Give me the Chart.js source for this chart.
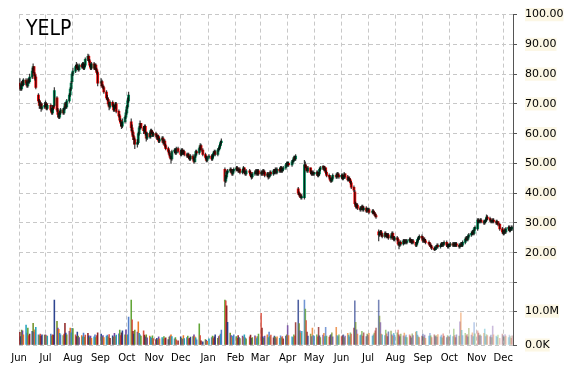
<!DOCTYPE html>
<html>
<head>
<meta charset="utf-8">
<script src="https://cdn.jsdelivr.net/npm/chart.js@4.4.1/dist/chart.umd.min.js"></script>
<style>
  html, body { margin: 0; padding: 0; background: #fff; }
  #wrap { position: relative; width: 570px; height: 370px; }
  #title { position: absolute; left: 26px; top: 16px; font: 21px "DejaVu Sans Condensed", "DejaVu Sans", sans-serif; color: #000; }
</style>
</head>
<body>
<div id="wrap">
  <canvas id="chart" width="570" height="370"></canvas>
  <div id="title">YELP</div>
</div>
<script>
// month tick labels, one per grid line (Jun 2014 .. Dec 2015)
const monthLabels = ['Jun', 'Jul', 'Aug', 'Sep', 'Oct', 'Nov', 'Dec', 'Jan', 'Feb', 'Mar', 'Apr', 'May', 'Jun', 'Jul', 'Aug', 'Sep', 'Oct', 'Nov', 'Dec'];

// market holidays inside the range
const holidays = ['2014-07-04', '2014-09-01', '2014-11-27', '2014-12-25', '2015-01-01', '2015-01-19',
  '2015-02-16', '2015-04-03', '2015-05-25', '2015-07-03', '2015-09-07', '2015-11-26'];

// daily prices, one line per month
const opens = [
  77, 76, 75, 77.5, 76.5, 78, 77, 76, 78, 77.5, 79, 81, 82.5, 80, 79, 73, 71, 69.5, 70, 68.5, 69,
  69.5, 70, 68.5, 69.5, 68, 67, 69, 69.5, 72, 68, 66.5, 65.5, 67, 68, 67, 68.5, 70, 69, 71, 73, 75, 77.5,
  80, 81, 82.5, 83, 82, 81.5, 83, 82.5, 83.5, 82, 83, 85, 86, 84.5, 83, 82, 83.5, 82, 83, 81.5, 80.5,
  77, 77.5, 76, 75.5, 74, 72, 71.5, 70, 69, 70.5, 69.5, 68, 69, 70, 67.5, 66, 64.5, 63.5, 62.5, 64, 65.5,
  67, 69, 71, 64, 62, 60.5, 59, 58, 56.5, 57, 60, 62, 63.5, 62, 61, 62.5, 60, 58.5, 60, 59, 61, 60.5, 59.5,
  60, 59.5, 58.5, 59, 57.5, 58, 58.5, 57, 57.5, 56, 55, 54, 53, 52, 51.5, 54, 54.5, 53.5, 55,
  54, 53, 54.5, 53.5, 54, 53, 52.5, 53, 52, 51.5, 52.5, 51.5, 50.5, 52.5, 54, 53.5, 55, 56, 54.5, 53, 52, 51,
  52, 52.5, 51.5, 52.5, 53.5, 54, 53, 54.5, 55, 56, 57, 48, 44, 45.5, 47, 47.5, 48, 47.5, 46.5, 47.5,
  48, 48.5, 48, 47.5, 48, 47, 47.5, 48.5, 47, 46.5, 47.5, 47, 46, 45.5, 46.5, 47, 47.5, 46.5, 47.5,
  46.5, 47, 46.5, 47.5, 47, 46, 46.5, 45.5, 46, 47, 46.5, 47.5, 47, 48, 47, 48, 47.5, 48.5, 47.5, 48, 48.5, 49.5,
  50, 50, 49.5, 50.5, 51, 52, 51.5, 41.5, 40, 39.5, 39, 38.5, 38.5, 49.5, 49, 48, 47.5, 48.5, 47, 46.5, 47,
  46.5, 46.5, 47, 46, 46.5, 48, 48.5, 49, 48, 48.5, 47, 46, 45.5, 44.5, 44, 45, 46, 45.5, 46.5, 46,
  45.5, 46, 45, 45.5, 46.5, 45.5, 44.5, 45, 44.5, 43.5, 42, 40.5, 36.5, 35.5, 36, 35, 34.5, 35, 35.5, 34.5, 35, 34,
  34.5, 34.5, 33.5, 34, 33.5, 33, 32.5, 27, 26, 26.5, 27, 26, 25.5, 26.5, 26, 25.5, 26, 25, 25.5, 26.5, 25, 24.5,
  25, 24.5, 23, 22.5, 23.5, 23, 24, 23.5, 24, 23.5, 24, 24.5, 24, 23.5, 24, 23.5, 22.5, 23.5, 24.5, 25, 25.5,
  25, 24, 24.5, 24, 23.5, 23, 22.5, 22, 21.5, 21, 21.5, 22, 22.5, 22, 22.5, 23, 22.5, 23, 23.5, 22.5, 22,
  22.5, 22.5, 23, 22.5, 23, 22.5, 23, 22.5, 22, 22.5, 23, 22.5, 23.5, 24.5, 25, 24.5, 25.5, 26, 26.5, 27, 26.5, 28,
  28, 31, 30.5, 30.5, 31, 30.5, 30, 30.5, 31, 32, 31.5, 31, 30.5, 30.5, 31, 30.5, 30, 30.5, 29.5, 28,
  27, 26.5, 27.5, 27, 28, 28.5, 27.5, 28, 28
];
const highs = [
  78.5, 76.5, 77.5, 78, 78.5, 78.5, 77.5, 78.5, 78.5, 80, 82, 83.5, 82.5, 80.5, 79.5, 73.5, 71.5, 71, 70.5, 70, 70.5,
  71, 70.5, 70, 70, 68.5, 69.5, 69.5, 75.5, 72.5, 68.5, 67, 67.5, 68.5, 68.5, 69, 70.5, 70.5, 71.5, 73.5, 75.5, 77.5, 80.5,
  82, 83, 84, 83.5, 82.5, 83.5, 83.5, 84, 84, 83.5, 85.5, 86.7, 86.5, 85, 83.5, 84, 84, 83.5, 83.5, 82, 81,
  78.5, 78, 76.5, 76, 74.5, 73, 72, 70.5, 71, 71, 70, 69.5, 70.5, 70.5, 68, 66.5, 65, 64, 65, 66, 68,
  69.5, 72, 74, 65, 63, 61, 59.5, 58.5, 58, 60.5, 62.5, 64.3, 63.5, 62.5, 63, 63, 60.5, 60.5, 60.5, 61.5, 61.5, 61, 60.5,
  60.5, 60, 59.5, 59.5, 58.5, 59, 59, 58, 58, 56.5, 55.5, 54.5, 53.5, 52.5, 54.5, 55, 55, 55.5, 55.5,
  54.5, 55, 55, 54.5, 54.5, 53.5, 53.5, 53.5, 52.5, 53, 53, 52, 53, 54.5, 54.5, 55.5, 56.7, 56.5, 55, 53.5, 52.5, 52.5,
  53, 53, 53, 54, 54.5, 54.5, 55, 55.5, 56.5, 57.5, 58.3, 48.5, 46, 47.5, 48, 48.5, 48.5, 48, 48, 48.5,
  49, 49, 48.5, 48.5, 48.5, 48, 49, 48.5, 47.5, 48, 48, 47.5, 46.5, 47, 47.5, 48, 48, 48, 48,
  47.5, 47.5, 48, 48, 47.5, 47, 47, 46.5, 47.5, 47.5, 48, 48, 48.5, 48.5, 48.5, 48.5, 49, 49, 48.5, 49, 50, 50.5,
  50.5, 50.5, 51, 51.5, 52.5, 52.5, 53, 42, 40.5, 40, 39.5, 39.5, 51, 50.5, 49.5, 48.5, 49, 48.5, 47.5, 47.5, 47.5,
  47, 47.5, 47.5, 47, 48.5, 49, 49.3, 49.2, 49, 48.5, 47.5, 46.5, 46, 45, 45.5, 46.5, 46.5, 47, 47, 46.5,
  46.5, 46.5, 46, 47, 46.5, 46, 45.5, 45.5, 44.8, 44, 42.5, 41, 37, 36.5, 36.5, 35.5, 35.5, 36, 36, 35.5, 35.5, 35,
  35, 35, 34.5, 34.5, 34, 33.5, 33, 27.7, 27, 27.5, 27.5, 26.5, 27, 27, 26.5, 26.5, 26.5, 26, 27, 27, 25.5, 25.5,
  25.5, 25, 23.5, 24, 24, 24.5, 24.5, 24.5, 24.5, 24.5, 25, 25, 24.5, 24.5, 24.5, 23.5, 24, 25, 25.5, 26, 26,
  25.5, 25, 25, 24.5, 24, 23.5, 23, 22.5, 22, 22, 22.5, 23, 23, 23, 23.5, 23.5, 23.5, 24, 24, 23, 23,
  23, 23.5, 23.5, 23.5, 23.5, 23.5, 23.5, 23, 23, 23.5, 23.5, 24, 25, 25.5, 25.5, 26, 26.5, 27, 27.5, 27.5, 28.5, 29,
  31.5, 31.5, 31, 31.5, 31.5, 31, 31, 31.5, 32.7, 32.5, 32, 31.5, 31, 31.5, 31.5, 31, 31, 30.5, 30, 28.5,
  27.5, 28, 28, 28.5, 29, 29, 28.5, 29, 29
];
const lows = [
  74.5, 74.5, 74.5, 76, 76, 76.5, 75.5, 75.5, 77, 77, 78.5, 80.5, 79.5, 78, 75, 70.5, 68.5, 68.5, 67.5, 68, 68.5,
  69, 68, 68, 67.5, 66.5, 66.5, 68, 69, 67.5, 65.5, 65, 65, 66.5, 66.5, 66.5, 68, 68.5, 68.5, 70.5, 72.5, 74.5, 77,
  79.5, 80.5, 82, 81.5, 81, 81, 82, 82, 81.5, 81.5, 82.5, 84.5, 84, 82.5, 81.5, 81.5, 81.5, 81.5, 81, 80, 76,
  76, 75.5, 75, 73.5, 71.5, 71, 69.5, 68, 68.5, 69, 67.5, 67.5, 68.5, 67, 65.5, 64, 62.5, 61.7, 62, 63.5, 65,
  66.5, 68.5, 70.5, 61, 59.5, 58, 56.5, 55, 55.5, 56.5, 59.5, 61.5, 61.5, 60, 60.5, 59.5, 57.5, 58, 58.5, 58.5, 60, 59, 59,
  59, 58, 58, 57, 57, 57.5, 56.5, 56.5, 55.5, 54.5, 53.5, 52.5, 51.5, 50, 51, 53.5, 53, 53, 53.5,
  52.5, 52.5, 53, 53, 52.5, 52, 52, 51.5, 51, 51, 51, 50, 50.5, 52, 53, 53, 54.5, 54, 52.5, 51.5, 50.5, 50.5,
  51.5, 51, 51, 52, 53, 52.5, 52.5, 54, 54.5, 55.5, 56.5, 42.3, 43.5, 45, 46.5, 47, 47, 46, 46, 47,
  47.5, 47.5, 47, 47, 46.5, 46.5, 47, 46.5, 46, 46, 46.5, 45.5, 44.7, 45, 46, 46.5, 46, 46, 46,
  46, 46, 46, 46.5, 45.5, 45.5, 44.7, 45, 45.5, 46, 46, 46.5, 46.5, 46.5, 46.5, 47, 47, 47, 47, 47.5, 48, 49,
  49, 49, 49, 50, 50.5, 51, 51, 39.5, 39, 38.5, 38, 38, 38, 48.5, 47.5, 47, 47, 46.5, 46, 46, 46,
  46, 46, 45.5, 45.5, 46, 47.5, 48, 47.5, 47.5, 46.5, 45.5, 45, 44, 43.5, 43.8, 44.5, 45, 45, 45.5, 45,
  45, 44.5, 44.5, 45, 45, 44, 44, 44, 43, 41.5, 40.5, 36, 35, 35, 34.5, 34, 34, 34.5, 34, 34, 33.5, 33.5,
  34, 33, 33, 33, 32.5, 32, 31.5, 24, 25.5, 26, 25.5, 25, 25, 25.5, 25, 25, 24.5, 24.5, 25, 24.5, 24, 24,
  24, 22.5, 21.3, 22, 22.5, 22.5, 23, 23, 23, 23, 23.5, 23.5, 23, 23, 23, 22, 22, 23, 24, 24.5, 24.5,
  23.5, 23.5, 23.5, 23, 22.5, 22, 21.5, 21, 20.7, 20.8, 21, 21.5, 21.5, 21.5, 22, 22, 22, 22.5, 22, 21.5, 21.5,
  22, 22, 22, 22, 22, 22, 22, 21.5, 21.5, 22, 22, 22, 23, 24, 24, 24, 25, 25.5, 26, 26, 26, 27.5,
  27.5, 30, 30, 30, 30, 29.5, 29.5, 30, 30.5, 31, 30.5, 30, 30, 30, 30, 29.5, 29.5, 29, 27.5, 26.5,
  26, 26, 26.5, 26.5, 27.5, 27, 27, 27.5, 27.5
];
const closes = [
  76, 75, 77, 76.5, 78, 77, 76, 78, 77.5, 79, 81, 82.5, 80, 78.5, 75.5, 71, 69.5, 70, 68.5, 69, 69.5,
  70, 68.5, 69.5, 68, 67, 69, 68.5, 74.5, 68, 66.5, 65.5, 67, 68, 67, 68.5, 70, 69, 71, 73, 75, 77, 80,
  81, 82.5, 83, 82, 81.5, 83, 82.5, 83.5, 82, 83, 85, 86, 84.5, 83, 82, 83.5, 82, 83, 81.5, 80.5, 77,
  77.5, 76, 75.5, 74, 72, 71.5, 70, 69, 70.5, 69.5, 68, 69, 70, 67.5, 66, 64.5, 63.5, 62.5, 64, 65.5, 67,
  69, 71, 73, 62, 60.5, 59, 58, 56.5, 57, 60, 62, 63.5, 62, 61, 62.5, 60, 58.5, 60, 59, 61, 60.5, 59.5, 60,
  59.5, 58.5, 59, 57.5, 58, 58.5, 57, 57.5, 56, 55, 54, 53, 52, 51.5, 54, 54.5, 53.5, 55, 54,
  53, 54.5, 53.5, 54, 53, 52.5, 53, 52, 51.5, 52.5, 51.5, 50.5, 52.5, 54, 53.5, 55, 56, 54.5, 53, 52, 51, 52,
  52.5, 51.5, 52.5, 53.5, 54, 53, 54.5, 55, 56, 57, 57.5, 44, 45.5, 47, 47.5, 48, 47.5, 46.5, 47.5, 48,
  48.5, 48, 47.5, 48, 47, 47.5, 48.5, 47, 46.5, 47.5, 47, 46, 45.5, 46.5, 47, 47.5, 46.5, 47.5, 46.5,
  47, 46.5, 47.5, 47, 46, 46.5, 45.5, 46, 47, 46.5, 47.5, 47, 48, 47, 48, 47.5, 48.5, 47.5, 48, 48.5, 49.5, 50,
  50, 49.5, 50.5, 51, 52, 51.5, 52.5, 40, 39.5, 39, 38.5, 38.8, 49.5, 49, 48, 47.5, 48.5, 47, 46.5, 47, 46.5,
  46.5, 47, 46, 46.5, 48, 48.5, 49, 48, 48.5, 47, 46, 45.5, 44.5, 44, 45, 46, 45.5, 46.5, 46, 45.5,
  46, 45, 45.5, 46.5, 45.5, 44.5, 45, 44.5, 43.5, 42, 41, 36.5, 35.5, 36, 35, 34.5, 35, 35.5, 34.5, 35, 34, 34.5,
  34.5, 33.5, 34, 33.5, 33, 32.5, 32, 26, 26.5, 27, 26, 25.5, 26.5, 26, 25.5, 26, 25, 25.5, 26.5, 25, 24.5, 25,
  24.5, 23, 22.5, 23.5, 23, 24, 23.5, 24, 23.5, 24, 24.5, 24, 23.5, 24, 23.5, 22.5, 23.5, 24.5, 25, 25.5, 25,
  24, 24.5, 24, 23.5, 23, 22.5, 22, 21.5, 21, 21.5, 22, 22.5, 22, 22.5, 23, 22.5, 23, 23.5, 22.5, 22, 22.5,
  22.5, 23, 22.5, 23, 22.5, 23, 22.5, 22, 22.5, 23, 22.5, 23.5, 24.5, 25, 24.5, 25.5, 26, 26.5, 27, 26.5, 28, 28.5,
  31, 30.5, 30.5, 31, 30.5, 30, 30.5, 31, 32, 31.5, 31, 30.5, 30.5, 31, 30.5, 30, 30.5, 29.5, 28, 27,
  26.5, 27.5, 27, 28, 28.5, 27.5, 28, 28.5, 28.5
];
// daily volume, millions of shares
const volumes = [
  3.7, 2.5, 4.4, 4.2, 3.0, 5.9, 3.5, 5.0, 2.8, 3.2, 4.0, 6.4, 3.8, 4.5, 5.2, 3.0, 2.8, 3.2, 2.6, 3.0, 2.9,
  3.0, 2.8, 2.6, 3.2, 2.7, 3.0, 2.9, 13.2, 7.0, 5.0, 4.6, 3.4, 3.0, 2.8, 3.2, 6.4, 3.5, 3.0, 4.0, 5.0, 3.6, 4.9,
  4.8, 3.0, 2.5, 3.8, 2.6, 2.2, 2.8, 2.4, 3.5, 2.3, 2.9, 3.4, 2.7, 2.2, 2.6, 2.0, 2.4, 3.0, 2.2, 2.8, 3.6,
  3.2, 2.5, 2.8, 2.2, 2.6, 2.9, 2.4, 3.1, 2.0, 2.7, 2.3, 3.4, 2.5, 2.9, 3.3, 4.4, 2.8, 3.6, 4.2, 3.0, 4.5,
  2.9, 3.0, 8.2, 13.2, 7.4, 4.0, 3.2, 4.4, 3.8, 6.8, 3.4, 3.0, 2.6, 4.2, 2.9, 2.4, 3.0, 2.1, 2.6, 2.3, 2.0, 2.7, 1.9,
  1.6, 2.0, 1.5, 2.4, 1.8, 2.2, 1.7, 2.5, 1.9, 2.1, 1.6, 2.3, 2.6, 3.0, 2.5, 1.8, 2.2, 1.5, 1.2,
  2.4, 2.0, 1.7, 2.8, 1.9, 2.2, 2.6, 1.8, 2.0, 2.3, 2.5, 3.0, 2.4, 2.1, 1.5, 6.2, 2.8, 1.2, 0.9, 1.6, 1.4, 1.1,
  1.8, 2.2, 2.6, 1.9, 2.4, 3.0, 2.0, 2.5, 2.8, 3.2, 4.4, 13.2, 13.0, 11.5, 6.7, 3.5, 2.8, 2.2, 2.6, 3.0,
  2.5, 2.0, 2.8, 2.2, 1.9, 2.6, 2.3, 3.0, 2.1, 1.8, 2.4, 2.9, 2.0, 2.2, 2.7, 2.4, 1.9, 2.5, 3.2,
  9.3, 5.0, 2.4, 2.0, 2.6, 3.0, 2.2, 3.8, 2.5, 2.9, 2.1, 2.6, 2.3, 1.9, 2.4, 2.0, 2.7, 2.2, 2.5, 1.8, 2.6, 3.0,
  5.7, 2.8, 2.4, 2.2, 3.0, 2.6, 6.6, 13.2, 6.3, 4.2, 3.5, 4.0, 13.2, 10.6, 7.2, 3.8, 2.6, 3.2, 2.5, 5.0, 2.8,
  2.6, 3.0, 2.4, 5.2, 2.7, 2.2, 2.9, 3.4, 2.5, 5.2, 2.6, 2.3, 2.8, 3.1, 3.6, 2.4, 5.2, 2.8, 2.5, 3.0,
  2.5, 2.8, 3.0, 2.2, 2.6, 3.4, 2.9, 2.4, 3.6, 3.2, 5.0, 13.0, 6.7, 4.5, 3.2, 2.8, 3.0, 4.0, 2.6, 3.6, 2.5, 3.2,
  2.9, 3.4, 2.6, 3.0, 3.5, 4.2, 5.0, 13.2, 8.5, 6.6, 3.2, 3.0, 2.8, 4.4, 3.3, 2.5, 3.9, 4.1, 3.0, 2.6, 3.4, 2.9,
  3.6, 4.4, 3.0, 2.5, 3.2, 2.7, 3.5, 2.4, 2.9, 2.2, 3.0, 2.6, 2.1, 3.3, 2.8, 3.8, 4.0, 2.9, 2.4, 2.2, 2.6,
  3.2, 2.4, 2.9, 2.0, 2.6, 3.4, 2.7, 2.2, 3.0, 2.5, 2.8, 2.3, 3.1, 2.4, 2.9, 2.1, 3.3, 2.6, 2.2, 2.8, 2.5,
  2.3, 2.9, 2.5, 4.7, 2.8, 2.2, 3.0, 2.6, 6.8, 9.5, 4.3, 2.8, 3.4, 2.7, 3.1, 2.4, 4.9, 2.9, 3.6, 2.5, 6.6, 3.3,
  4.2, 3.5, 2.8, 3.0, 2.6, 3.4, 4.7, 2.5, 3.1, 2.8, 2.4, 2.9, 2.2, 5.6, 3.0, 2.6, 2.3, 2.9, 2.0, 3.2,
  2.8, 2.4, 3.1, 2.6, 2.2, 2.9, 2.5, 2.0, 2.7
];

const upColor = '#0f9a68';
const downColor = '#ff1010';
const volPalette = ['139,28,28', '35,58,138', '109,140,31', '106,61,154', '232,115,28', '26,160,184', '75,120,200', '90,160,44', '217,74,58'];

const DAY = 86400000;
const ORIGIN = Date.UTC(2014, 5, 1);
const toDay = t => (t - ORIGIN) / DAY;

// trading days from 2 Jun 2014 to 11 Dec 2015
const days = [];
for (let t = Date.UTC(2014, 5, 2); t <= Date.UTC(2015, 11, 11); t += DAY) {
  const d = new Date(t);
  const wd = d.getUTCDay();
  if (wd === 0 || wd === 6) continue;
  if (holidays.includes(d.toISOString().slice(0, 10))) continue;
  days.push(toDay(t));
}
if (days.length !== closes.length) console.error('length mismatch', days.length, closes.length, opens.length, highs.length, lows.length, volumes.length);

const monthStarts = monthLabels.map((m, k) => toDay(Date.UTC(2014, 5 + k, 1)));

const bodyColors = closes.map((c, i) => (c >= opens[i] ? upColor : downColor));
const volColors = volumes.map((v, i) => {
  const a = i < 170 ? 0.95 : 0.95 - 0.65 * (i - 170) / (volumes.length - 170);
  return 'rgba(' + volPalette[i % volPalette.length] + ',' + a.toFixed(2) + ')';
});

const gridColor = '#c8c8c8';
const dash = [4, 3];
const tickFont = { family: '"DejaVu Sans", sans-serif', size: 11 };
const labelBack = 'rgba(245,232,180,0.35)';

new Chart(document.getElementById('chart'), {
  type: 'bar',
  data: {
    datasets: [
      {
        label: 'wick',
        data: days.map((d, i) => ({ x: d, y: [lows[i], highs[i]] })),
        backgroundColor: 'rgba(0,0,0,0.75)',
        barThickness: 0.6,
        grouped: false,
        yAxisID: 'y',
        order: 0
      },
      {
        label: 'body',
        data: days.map((d, i) => ({ x: d, y: [opens[i], closes[i]] })),
        backgroundColor: bodyColors,
        barThickness: 2.2,
        minBarLength: 1,
        grouped: false,
        yAxisID: 'y',
        order: 1
      },
      {
        label: 'volume',
        data: days.map((d, i) => ({ x: d, y: volumes[i] * 1e6 })),
        backgroundColor: volColors,
        barThickness: 0.9,
        grouped: false,
        yAxisID: 'yVol',
        order: 2
      }
    ]
  },
  options: {
    responsive: false,
    animation: false,
    layout: { padding: { left: 19, top: 12, right: 0, bottom: 0 } },
    plugins: { legend: { display: false }, tooltip: { enabled: false } },
    scales: {
      x: {
        type: 'linear',
        offset: false,
        min: 0,
        max: 559,
        afterBuildTicks: scale => { scale.ticks = monthStarts.map(v => ({ value: v })); },
        afterFit: scale => { scale.height = 25; },
        ticks: {
          autoSkip: false,
          maxRotation: 0,
          padding: 7,
          color: '#000',
          font: { family: '"DejaVu Sans", sans-serif', size: 10 },
          callback: (v, i) => monthLabels[i]
        },
        grid: { color: gridColor, drawTicks: false, offset: false },
        border: { display: false, dash: dash }
      },
      y: {
        type: 'linear',
        position: 'right',
        stack: 'right',
        stackWeight: 270,
        min: 10,
        max: 100,
        afterBuildTicks: scale => {
          const t = [];
          for (let v = 10; v <= 100; v += 10) t.push({ value: v });
          scale.ticks = t;
        },
        afterFit: scale => { scale.width = 57; },
        ticks: {
          autoSkip: false,
          padding: 8,
          color: '#000',
          font: tickFont,
          showLabelBackdrop: true,
          backdropColor: labelBack,
          backdropPadding: 0,
          callback: v => (v === 10 ? '' : v.toFixed(2))
        },
        grid: { color: gridColor, tickColor: '#555', tickLength: 4 },
        border: { display: true, color: '#555', width: 1, dash: dash }
      },
      yVol: {
        type: 'linear',
        position: 'right',
        stack: 'right',
        stackWeight: 63,
        min: 0,
        max: 18.4e6,
        afterBuildTicks: scale => { scale.ticks = [{ value: 0 }, { value: 1e7 }]; },
        afterFit: scale => { scale.width = 57; },
        ticks: {
          autoSkip: false,
          padding: 8,
          color: '#000',
          font: tickFont,
          showLabelBackdrop: true,
          backdropColor: labelBack,
          backdropPadding: 0,
          callback: v => (v === 0 ? '0.0K' : (v / 1e6).toFixed(1) + 'M')
        },
        grid: { color: gridColor, tickColor: '#555', tickLength: 4 },
        border: { display: true, color: '#555', width: 1, dash: dash }
      }
    }
  }
});
</script>
</body>
</html>
